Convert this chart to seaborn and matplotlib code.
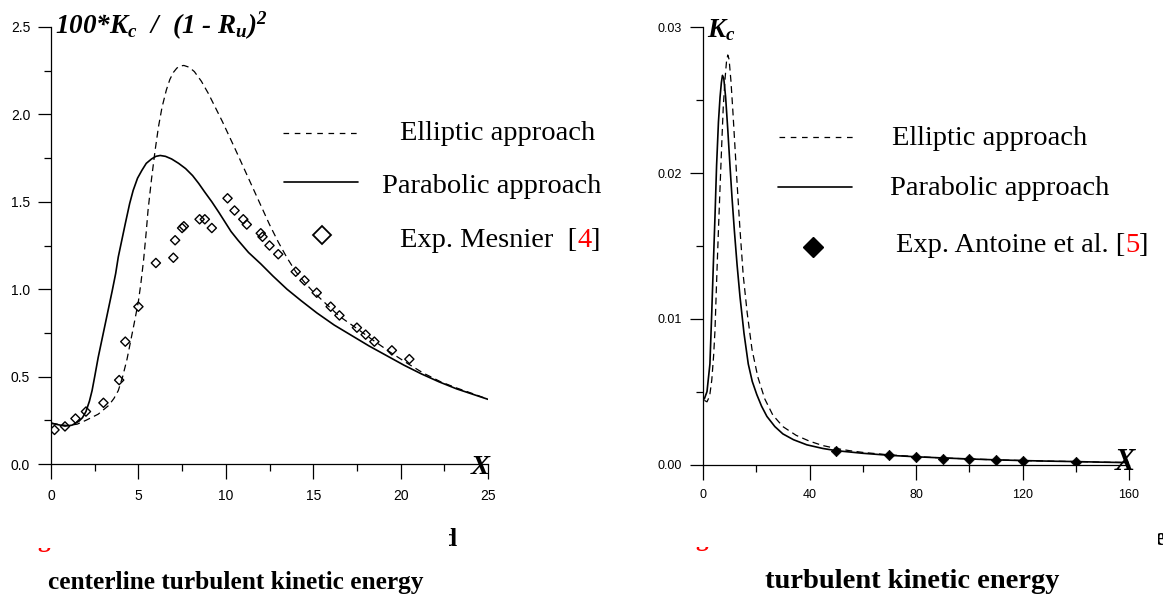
import numpy as np
import pandas as pd
import seaborn as sns
import matplotlib
matplotlib.use("Agg")
import matplotlib.pyplot as plt
from matplotlib.lines import Line2D
from matplotlib.ticker import MultipleLocator, FormatStrFormatter

# ---------------- panel izquierdo: 100*Kc/(1-Ru)^2 ----------------
x_eli_izq = [0, 0.5, 1.0, 1.5, 2.0, 2.7, 3.3, 3.6, 3.85, 4.1, 4.35, 4.55, 4.75, 5.0, 5.15,
             5.3, 5.45, 5.55, 5.75, 5.95, 6.15, 6.35, 6.6, 6.8, 7.0, 7.2, 7.4, 7.6, 7.9,
             8.2, 8.6, 9.0, 9.4, 9.8, 10.5, 11.0, 11.5, 12.0, 12.5, 13.0, 13.5, 14.0,
             14.5, 15.0, 15.8, 16.5, 17.5, 18.4, 19.4, 20.4, 21.3, 22.3, 23.2, 24.2, 25]
y_eli_izq = [0.235, 0.225, 0.22, 0.228, 0.25, 0.285, 0.335, 0.375, 0.42, 0.5, 0.60, 0.70,
             0.80, 0.93, 1.04, 1.17, 1.33, 1.45, 1.63, 1.79, 1.93, 2.04, 2.14, 2.20, 2.24,
             2.265, 2.277, 2.28, 2.27, 2.245, 2.19, 2.12, 2.04, 1.96, 1.81, 1.70, 1.59,
             1.48, 1.37, 1.27, 1.18, 1.10, 1.04, 0.985, 0.91, 0.845, 0.775, 0.71, 0.64,
             0.575, 0.52, 0.47, 0.435, 0.40, 0.37]

x_par_izq = [0, 0.4, 0.8, 1.2, 1.6, 1.8, 2.0, 2.2, 2.35, 2.5, 2.7, 2.9, 3.1, 3.3, 3.5,
             3.7, 3.85, 4.05, 4.25, 4.5, 4.7, 4.95, 5.2, 5.45, 5.75, 6.0, 6.25, 6.55, 6.9,
             7.3, 7.7, 8.1, 8.45, 8.8, 9.2, 9.6, 9.95, 10.3, 10.7, 11.3, 12.0, 12.7, 13.5,
             14.3, 15.2, 16.2, 17.2, 18.2, 19.2, 20.2, 21.2, 22.2, 23.2, 24.1, 25]
y_par_izq = [0.233, 0.225, 0.217, 0.222, 0.245, 0.265, 0.30, 0.36, 0.42, 0.50, 0.61, 0.705,
             0.80, 0.895, 0.99, 1.09, 1.185, 1.28, 1.375, 1.49, 1.565, 1.635, 1.68, 1.72,
             1.745, 1.76, 1.765, 1.76, 1.745, 1.72, 1.69, 1.65, 1.605, 1.555, 1.50, 1.44,
             1.385, 1.33, 1.28, 1.21, 1.145, 1.075, 1.0, 0.935, 0.865, 0.795, 0.735, 0.675,
             0.62, 0.565, 0.515, 0.47, 0.43, 0.40, 0.37]

x_mesnier = [0.2, 0.8, 1.4, 2.0, 3.0, 3.9, 4.25, 5.0, 6.0, 7.0, 7.1, 7.5, 7.6, 8.5, 8.8,
             9.2, 10.1, 10.5, 11.0, 11.2, 12.0, 12.1, 12.5, 13.0, 14.0, 14.5, 15.2, 16.0,
             16.5, 17.5, 18.0, 18.5, 19.5, 20.5]
y_mesnier = [0.195, 0.215, 0.26, 0.30, 0.35, 0.48, 0.70, 0.90, 1.15, 1.18, 1.28, 1.35,
             1.36, 1.40, 1.40, 1.35, 1.52, 1.45, 1.40, 1.37, 1.32, 1.30, 1.25, 1.20, 1.10,
             1.05, 0.98, 0.90, 0.85, 0.78, 0.74, 0.70, 0.65, 0.60]

# ---------------- panel derecho: Kc ----------------
x_eli_der = [0.5, 1.5, 2.5, 3.3, 4.0, 4.5, 5.1, 5.8, 6.4, 7.0, 7.6, 8.3, 8.8, 9.3, 9.8,
             10.5, 11.2, 12.0, 12.9, 13.9, 15.1, 16.6, 18.4, 20.6, 23.2, 26.2, 30.0, 35.0,
             40.0, 45.0, 50.0, 55.0, 60.0, 70.0, 80.0, 90.0, 100.0, 110.0, 120.0, 130.0,
             140.0, 150.0, 160.0]
y_eli_der = [0.0044, 0.0043, 0.0047, 0.0058, 0.0075, 0.0092, 0.0125, 0.0161, 0.0190,
             0.0218, 0.0245, 0.0265, 0.0276, 0.0281, 0.0278, 0.0263, 0.0243, 0.0218,
             0.0190, 0.0161, 0.0130, 0.0104, 0.0079, 0.0060, 0.0045, 0.0034, 0.0026,
             0.0020, 0.0016, 0.0013, 0.0011, 0.00095, 0.00083, 0.00066, 0.00054, 0.00045,
             0.00038, 0.00032, 0.00027, 0.00023, 0.0002, 0.00016, 0.00013]

x_par_der = [0.5, 1.5, 2.6, 3.3, 3.9, 4.5, 5.1, 5.8, 6.4, 6.9, 7.3, 7.8, 8.5, 9.3, 10.1,
             10.9, 11.8, 12.8, 13.9, 15.4, 17.0, 18.5, 20.2, 22.0, 24.0, 27.0, 30.0, 34.0,
             39.0, 45.0, 50.0, 60.0, 70.0, 80.0, 90.0, 100.0, 110.0, 120.0, 130.0, 140.0,
             150.0, 160.0]
y_par_der = [0.0045, 0.0050, 0.0069, 0.0105, 0.0138, 0.0170, 0.0205, 0.0235, 0.0252,
             0.0262, 0.0267, 0.0265, 0.0252, 0.0230, 0.0206, 0.0183, 0.0160, 0.0137,
             0.0115, 0.0090, 0.0069, 0.0057, 0.0048, 0.0040, 0.0033, 0.0026, 0.0021,
             0.0017, 0.00135, 0.00110, 0.00095, 0.00077, 0.00063, 0.00053, 0.00045,
             0.00038, 0.00032, 0.00027, 0.00023, 0.0002, 0.00016, 0.00013]

x_antoine = [50, 70, 80, 90, 100, 110, 120, 140]
y_antoine = [0.00092, 0.00065, 0.00051, 0.00040, 0.00035, 0.00029, 0.00024, 0.00020]

# ---------------- estilo ----------------
sns.set_style("ticks")
plt.rcParams['font.family'] = ['Liberation Sans', 'DejaVu Sans']
plt.rcParams['mathtext.fontset'] = 'custom'
plt.rcParams['mathtext.rm'] = 'Liberation Serif:bold:italic'
plt.rcParams['mathtext.it'] = 'Liberation Serif:bold:italic'
plt.rcParams['mathtext.bf'] = 'Liberation Serif:bold:italic'
plt.rcParams['axes.linewidth'] = 0.9
for k in ['text.color', 'axes.edgecolor', 'xtick.color', 'ytick.color',
          'axes.labelcolor']:
    plt.rcParams[k] = 'black'

W, H = 1163, 597
fig = plt.figure(figsize=(W / 100, H / 100), dpi=100)


def fx(px):
    return px / W


def fy(py):
    return 1 - py / H


ax1 = fig.add_axes([fx(51), fy(464), 437 / W, 437 / H])
ax2 = fig.add_axes([fx(703), fy(464.5), 426 / W, 437.2 / H])

DASH = (0, (5.5, 3.5))

# curvas
sns.lineplot(x=x_eli_izq, y=y_eli_izq, ax=ax1, color='black', lw=0.9, linestyle=DASH)
sns.lineplot(x=x_par_izq, y=y_par_izq, ax=ax1, color='black', lw=1.2)
sns.scatterplot(x=x_mesnier, y=y_mesnier, ax=ax1, marker='D', s=22, facecolors='none',
                edgecolor='black', linewidth=1.0, zorder=3)

sns.lineplot(x=x_eli_der, y=y_eli_der, ax=ax2, color='black', lw=0.9, linestyle=DASH)
sns.lineplot(x=x_par_der, y=y_par_der, ax=ax2, color='black', lw=1.2)
sns.scatterplot(x=x_antoine, y=y_antoine, ax=ax2, marker='D', s=28, color='black',
                edgecolor='black', linewidth=0.5, zorder=3)

# ejes
for ax, (xl, yl), (xM, xm), (yM, ym), fs in [
        (ax1, ((0, 25), (0, 2.5)), (5, 2.5), (0.5, 0.25), 10),
        (ax2, ((0, 160), (0, 0.03)), (40, 20), (0.01, 0.005), 9)]:
    ax.set_xlim(*xl)
    ax.set_ylim(*yl)
    ax.xaxis.set_major_locator(MultipleLocator(xM))
    ax.xaxis.set_minor_locator(MultipleLocator(xm))
    ax.yaxis.set_major_locator(MultipleLocator(yM))
    ax.yaxis.set_minor_locator(MultipleLocator(ym))
    sns.despine(ax=ax)
    ax.tick_params(axis='x', which='major', length=11, width=0.9, pad=7, labelsize=fs)
    ax.tick_params(axis='y', which='major', length=9.5, width=0.9, pad=5.5, labelsize=fs)
    ax.tick_params(which='minor', length=5, width=0.9)
    ax.set_xlabel('')
    ax.set_ylabel('')

ax2.yaxis.set_major_formatter(FormatStrFormatter('%.2f'))

# titulos de ejes
fig.text(fx(55), fy(34), '$100{*}K_c\\ \\ /\\ \\ (1\\ \u2010\\ R_u)^{2}$', fontsize=19.5,
         va='baseline')
fig.text(fx(707), fy(37), r'$K_c$', fontsize=19.5, va='baseline')
fig.text(fx(470), fy(474), r'$X$', fontsize=20.5, va='baseline')
fig.text(fx(1114), fy(470), r'$X$', fontsize=22, va='baseline')

# leyendas
serif = dict(family=['Liberation Serif', 'DejaVu Serif'], fontsize=20.5, va='baseline')
fig.add_artist(Line2D([fx(283), fx(358)], [fy(133), fy(133)], transform=fig.transFigure,
                      color='black', lw=0.9, linestyle=(0, (4.5, 4.5))))
fig.add_artist(Line2D([fx(284), fx(358)], [fy(182), fy(182)], transform=fig.transFigure,
                      color='black', lw=1.2))
fig.add_artist(Line2D([fx(322)], [fy(235)], transform=fig.transFigure, marker='D',
                      markersize=9, mfc='white', mec='black', mew=1.3, linestyle=''))
fig.text(fx(400), fy(140), 'Elliptic approach', **serif)
fig.text(fx(382), fy(193), 'Parabolic approach', **serif)
t_a = fig.text(fx(400), fy(247), 'Exp. Mesnier  [', **serif)
t_b = ax1.annotate('4', xy=(1, 0), xycoords=t_a, ha='left', va='bottom', color='red',
                   family=['Liberation Serif'], fontsize=20.5, annotation_clip=False)
ax1.annotate(']', xy=(1, 0), xycoords=t_b, ha='left', va='bottom',
             family=['Liberation Serif'], fontsize=20.5, annotation_clip=False)

fig.add_artist(Line2D([fx(779), fx(853)], [fy(137), fy(137)], transform=fig.transFigure,
                      color='black', lw=0.9, linestyle=(0, (4.5, 4.5))))
fig.add_artist(Line2D([fx(778), fx(852)], [fy(187), fy(187)], transform=fig.transFigure,
                      color='black', lw=1.2))
fig.add_artist(Line2D([fx(813)], [fy(247)], transform=fig.transFigure, marker='D',
                      markersize=10, mfc='black', mec='black', linestyle=''))
fig.text(fx(892), fy(145), 'Elliptic approach', **serif)
fig.text(fx(890), fy(195), 'Parabolic approach', **serif)
t_c = fig.text(fx(896), fy(252), 'Exp. Antoine et al. [', **serif)
t_d = ax2.annotate('5', xy=(1, 0), xycoords=t_c, ha='left', va='bottom', color='red',
                   family=['Liberation Serif'], fontsize=20.5, annotation_clip=False)
ax2.annotate(']', xy=(1, 0), xycoords=t_d, ha='left', va='bottom',
             family=['Liberation Serif'], fontsize=20.5, annotation_clip=False)

# pies de figura
bold = dict(family=['Liberation Serif', 'DejaVu Serif'], weight='bold', va='baseline')
fig.text(fx(48), fy(589), 'centerline turbulent kinetic energy', fontsize=18.3, **bold)
fig.text(fx(765), fy(588), 'turbulent kinetic energy', fontsize=20.5, **bold)

# restos recortados de la linea anterior del pie
for (x0, y0, x1, y1), (tx, ty), ch, col in [
        ((35, 547.5, 52, 556), (37, 547), 'g', 'red'),
        ((693, 546.5, 710, 556), (695, 546), 'g', 'red'),
        ((449, 527, 462, 552), (443, 546), 'd', 'black'),
        ((1158, 533, 1163, 547), (1154, 545), 'e', 'black')]:
    axc = fig.add_axes([fx(x0), fy(y1), (x1 - x0) / W, (y1 - y0) / H])
    axc.set_axis_off()
    axc.text((tx - x0) / (x1 - x0), (y1 - ty) / (y1 - y0), ch, transform=axc.transAxes,
             fontsize=18.3, color=col, clip_on=True, **bold)

fig.savefig('out.png', dpi=100)
